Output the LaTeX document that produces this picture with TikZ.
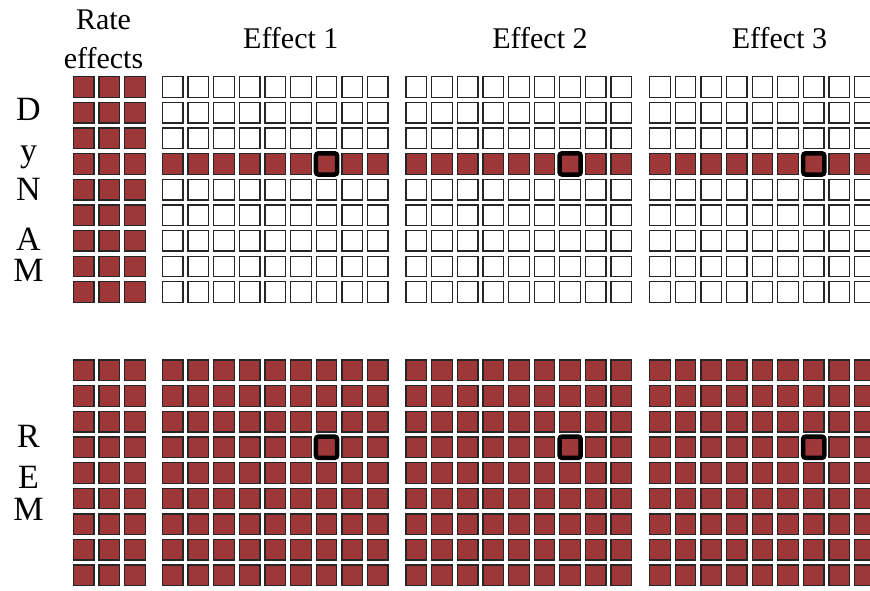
\documentclass[tikz,border=0pt]{standalone}
\usepackage{fontspec}
\setmainfont{Liberation Serif}
\definecolor{cellred}{HTML}{9E3838}
\definecolor{cellline}{HTML}{262626}
\begin{document}
\begin{tikzpicture}[x=1pt,y=-1pt,
  cell/.style={draw=cellline,line width=1.3pt},
  redcell/.style={cell,fill=cellred},
  whitecell/.style={cell,fill=white},
  hilite/.style={draw=black,line width=4.5pt,rounded corners=2.5pt},
  lab/.style={font=\fontsize{30}{36}\selectfont,inner sep=0pt,anchor=base},
  side/.style={font=\fontsize{34}{40}\selectfont,inner sep=0pt,anchor=base}]
\useasboundingbox (0,0) rectangle (870,590);
\def\pp{25.64}
\begin{scope}
\clip (0,0) rectangle (870,590);
% DyNAM: rate effects column (all red)
\foreach \c in {0,1,2} \foreach \r in {0,...,8}
  \draw[redcell] ({72.7+\c*\pp+0.7},{76+\r*\pp+0.7}) rectangle +(20.6,20.6);
% DyNAM: effect blocks (white, row 4 red)
\foreach \bx in {161.7,405.3,648.9} {
  \foreach \c in {0,...,8} \foreach \r in {0,...,8}
    \draw[whitecell] ({\bx+\c*\pp+0.7},{76+\r*\pp+0.7}) rectangle +(20.6,20.6);
  \foreach \c in {0,...,8}
    \draw[redcell] ({\bx+\c*\pp+0.7},{76+3*\pp+0.7}) rectangle +(20.6,20.6);
  \draw[hilite] ({\bx+6*\pp+0.4},{76+3*\pp+0.4}) rectangle +(21.2,21.2);
}
% REM: all red
\foreach \bx/\n in {72.7/2,161.7/8,405.3/8,648.9/8} {
  \foreach \c in {0,...,\n} \foreach \r in {0,...,8}
    \draw[redcell] ({\bx+\c*\pp+0.7},{359.3+\r*\pp+0.7}) rectangle +(20.6,20.6);
}
\foreach \bx in {161.7,405.3,648.9}
  \draw[hilite] ({\bx+6*\pp+0.4},{359.3+3*\pp+0.4}) rectangle +(21.2,21.2);
\end{scope}
% labels
\node[lab] (rate) at (103.5,29.5) {Rate};
\node[lab] (effects) at (103.5,68.3) {effects};
\node[lab] (eff1) at (290.8,48.7) {Effect 1};
\node[lab] (eff2) at (540,48.7) {Effect 2};
\node[lab] (eff3) at (779.5,48.7) {Effect 3};
\node[side] (d1) at (28.5,120) {D};
\node[side] (d2) at (28.5,161.7) {y};
\node[side] (d3) at (28.5,200.7) {N};
\node[side] (d4) at (28.5,250) {A};
\node[side] (d5) at (28.5,281.7) {M};
\node[side] (r1) at (28.5,447.7) {R};
\node[side] (r2) at (28.5,488.3) {E};
\node[side] (r3) at (28.5,520) {M};
\end{tikzpicture}
\end{document}
